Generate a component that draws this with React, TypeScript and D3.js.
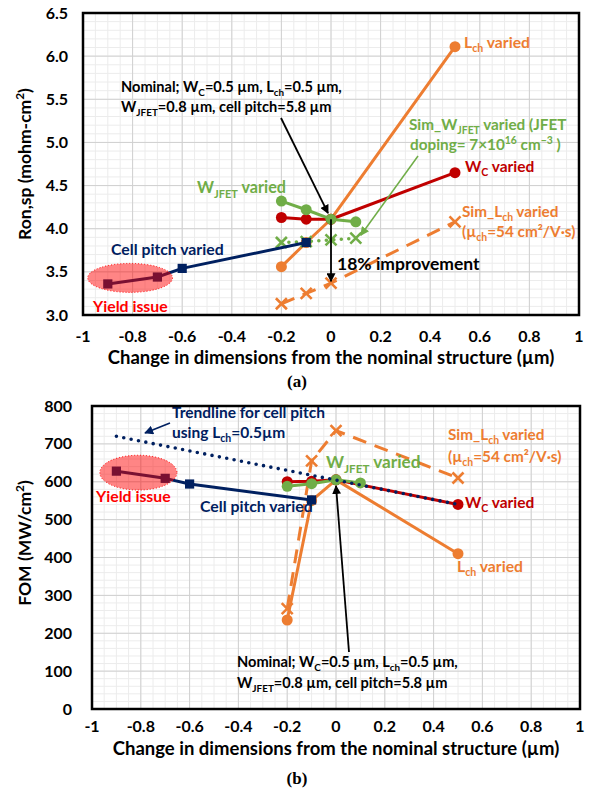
import React from 'react';
import * as d3 from 'd3';

type Pt = [number, number];

const FONT = "Lato, 'Open Sans', sans-serif";
const ORANGE = '#ED7D31';
const RED = '#C00000';
const GREEN = '#70AD47';
const NAVY = '#002060';
const BRIGHT_RED = '#FF0000';

// (a) Ron,sp (mohm-cm²) against change in dimension (µm)
const ronLch: Pt[] = [[-0.2, 3.56], [-0.1, 3.84], [0, 4.11], [0.5, 6.11]];
const ronWc: Pt[] = [[-0.2, 4.13], [-0.1, 4.11], [0, 4.11], [0.5, 4.65]];
const ronWjfet: Pt[] = [[-0.2, 4.32], [-0.1, 4.22], [0, 4.11], [0.1, 4.08]];
const ronSimWjfet: Pt[] = [[-0.2, 3.84], [-0.1, 3.85], [0, 3.87], [0.1, 3.89]];
const ronSimLch: Pt[] = [[-0.2, 3.13], [-0.1, 3.25], [0, 3.37], [0.5, 4.08]];
const ronCellPitch: Pt[] = [[-0.9, 3.36], [-0.7, 3.44], [-0.6, 3.54], [-0.1, 3.84]];

// (b) FOM (MW/cm²) against change in dimension (µm)
const fomLch: Pt[] = [[-0.2, 235], [-0.1, 550], [0, 605], [0.5, 410]];
const fomWc: Pt[] = [[-0.2, 600], [-0.1, 601], [0, 605], [0.5, 540]];
const fomWjfet: Pt[] = [[-0.2, 588], [-0.1, 595], [0, 605], [0.1, 597]];
const fomSimLch: Pt[] = [[-0.2, 265], [-0.1, 655], [0, 735], [0.5, 610]];
const fomCellPitch: Pt[] = [[-0.9, 628], [-0.7, 609], [-0.6, 594], [-0.1, 552]];
const fomTrend: Pt[] = [[-0.9, 720], [0.5, 540]];

const xTickValues = [-1, -0.8, -0.6, -0.4, -0.2, 0, 0.2, 0.4, 0.6, 0.8, 1];
const xTickLabels = ['-1', '-0.8', '-0.6', '-0.4', '-0.2', '0', '0.2', '0.4', '0.6', '0.8', '1'];
const ronTickValues = [3, 3.5, 4, 4.5, 5, 5.5, 6, 6.5];
const ronTickLabels = ['3.0', '3.5', '4.0', '4.5', '5.0', '5.5', '6.0', '6.5'];
const fomTickValues = [0, 100, 200, 300, 400, 500, 600, 700, 800];
const fomTickLabels = ['0', '100', '200', '300', '400', '500', '600', '700', '800'];

const xTitle = 'Change in dimensions from the nominal structure (µm)';

type Seg = string | { t: string; s: 'sub' | 'sup' };

function Rich({ x, y, segs, size, fill, anchor = 'start', transform }: {
  x: number; y: number; segs: Seg[]; size: number; fill: string; anchor?: string; transform?: string;
}) {
  const out: React.ReactNode[] = [];
  let shift = 0;
  segs.forEach((seg, i) => {
    if (typeof seg === 'string') {
      out.push(<tspan key={i} dy={-shift}>{seg}</tspan>);
      shift = 0;
    } else {
      const d = seg.s === 'sub' ? size * 0.28 : -size * 0.4;
      out.push(<tspan key={i} dy={d - shift} fontSize={size * 0.68}>{seg.t}</tspan>);
      shift = d;
    }
  });
  return (
    <text x={x} y={y} fontSize={size} fill={fill} fontWeight={700} fontFamily={FONT}
      textAnchor={anchor} transform={transform}>{out}</text>
  );
}

type Scale = d3.ScaleLinear<number, number>;

function Frame({ x, y, xMinor, yMinor, yTicks, yLabels, yLabelRight, xLabelY, titleY }: {
  x: Scale; y: Scale; xMinor: number; yMinor: number; yTicks: number[]; yLabels: string[];
  yLabelRight: number; xLabelY: number; titleY: number;
}) {
  const [x0, x1] = x.range();
  const [y0, y1] = y.range();
  const [dx0, dx1] = x.domain();
  const [dy0, dy1] = y.domain();
  const minorX = d3.range(Math.round((dx1 - dx0) / xMinor) + 1).map(i => dx0 + i * xMinor);
  const minorY = d3.range(Math.round((dy1 - dy0) / yMinor) + 1).map(i => dy0 + i * yMinor);
  return (
    <g>
      <rect x={x0} y={y1} width={x1 - x0} height={y0 - y1} fill="#fff" />
      {minorX.map((v, i) => <line key={'mx' + i} x1={x(v)} x2={x(v)} y1={y1} y2={y0} stroke="#ececec" strokeWidth={1} />)}
      {minorY.map((v, i) => <line key={'my' + i} x1={x0} x2={x1} y1={y(v)} y2={y(v)} stroke="#ececec" strokeWidth={1} />)}
      {xTickValues.map((v, i) => <line key={'gx' + i} x1={x(v)} x2={x(v)} y1={y1} y2={y0} stroke="#d0d0d0" strokeWidth={1} />)}
      {yTicks.map((v, i) => <line key={'gy' + i} x1={x0} x2={x1} y1={y(v)} y2={y(v)} stroke="#d0d0d0" strokeWidth={1} />)}
      {xTickValues.map((v, i) => (
        <text key={'tx' + i} x={x(v)} y={xLabelY} textAnchor="middle" fontSize={16} fontWeight={700} fontFamily={FONT} fill="#000">{xTickLabels[i]}</text>
      ))}
      {yTicks.map((v, i) => (
        <text key={'ty' + i} x={yLabelRight} y={y(v) + 5.5} textAnchor="end" fontSize={16} fontWeight={700} fontFamily={FONT} fill="#000">{yLabels[i]}</text>
      ))}
      <text x={(x0 + x1) / 2} y={titleY} textAnchor="middle" fontSize={18.5} fontWeight={700} fontFamily={FONT} fill="#000">{xTitle}</text>
    </g>
  );
}

function Border({ x, y }: { x: Scale; y: Scale }) {
  const [x0, x1] = x.range();
  const [y0, y1] = y.range();
  return <rect x={x0} y={y1} width={x1 - x0} height={y0 - y1} fill="none" stroke="#000" strokeWidth={2.5} />;
}

function Series({ data, x, y, color, style = 'solid', marker, width = 3, size = 5.5 }: {
  data: Pt[]; x: Scale; y: Scale; color: string; style?: 'solid' | 'dash' | 'dot';
  marker?: 'circle' | 'square' | 'x'; width?: number; size?: number;
}) {
  const line = d3.line<Pt>().x(d => x(d[0])).y(d => y(d[1]));
  const dash = style === 'dash' ? '14 9' : style === 'dot' ? '0 7.5' : undefined;
  return (
    <g>
      <path d={line(data) || ''} fill="none" stroke={color} strokeWidth={style === 'dot' ? 3.6 : width}
        strokeDasharray={dash} strokeLinecap={style === 'dot' ? 'round' : 'butt'} strokeLinejoin="round" />
      {marker && data.map((d, i) => {
        const cx = x(d[0]);
        const cy = y(d[1]);
        if (marker === 'circle') return <circle key={i} cx={cx} cy={cy} r={size} fill={color} />;
        if (marker === 'square') return <rect key={i} x={cx - size} y={cy - size} width={size * 2} height={size * 2} fill={color} />;
        return (
          <path key={i} d={`M${cx - size},${cy - size}L${cx + size},${cy + size}M${cx - size},${cy + size}L${cx + size},${cy - size}`}
            stroke={color} strokeWidth={2.6} fill="none" />
        );
      })}
    </g>
  );
}

function YieldZone({ x, y, cx, cy, rx, ry }: { x: Scale; y: Scale; cx: number; cy: number; rx: number; ry: number }) {
  return (
    <ellipse cx={x(cx)} cy={y(cy)} rx={x(cx + rx) - x(cx)} ry={y(cy) - y(cy + ry)}
      fill={BRIGHT_RED} fillOpacity={0.48} stroke={BRIGHT_RED} strokeWidth={1} strokeDasharray="1 2" />
  );
}

export default function App() {
  const xA = d3.scaleLinear().domain([-1, 1]).range([83, 579]);
  const yA = d3.scaleLinear().domain([3, 6.5]).range([315, 13]);
  const xB = d3.scaleLinear().domain([-1, 1]).range([92, 580]);
  const yB = d3.scaleLinear().domain([0, 800]).range([709, 406]);

  const nomA: Pt = [xA(0), yA(4.11)];
  const nomB: Pt = [xB(0), yB(605)];

  return (
    <svg width={595} height={793} viewBox="0 0 595 793" style={{ position: 'absolute', left: 0, top: 0, background: '#fff' }}>
      <defs>
        <marker id="ahBlack" viewBox="0 0 10 10" refX="9" refY="5" markerWidth="5" markerHeight="5" orient="auto">
          <path d="M0,0L10,5L0,10z" fill="#000" />
        </marker>
        <marker id="ahGreen" viewBox="0 0 10 10" refX="9" refY="5" markerWidth="6" markerHeight="6" orient="auto">
          <path d="M0,0L10,5L0,10z" fill={GREEN} />
        </marker>
        <marker id="ahNavy" viewBox="0 0 10 10" refX="9" refY="5" markerWidth="5" markerHeight="5" orient="auto">
          <path d="M0,0L10,5L0,10z" fill={NAVY} />
        </marker>
      </defs>
      <rect width={595} height={793} fill="#fff" />

      {/* ---------- (a) Ron,sp ---------- */}
      <Frame x={xA} y={yA} xMinor={0.05} yMinor={0.1} yTicks={ronTickValues} yLabels={ronTickLabels}
        yLabelRight={68} xLabelY={342} titleY={364} />
      <Rich x={31} y={164} segs={['Ron,sp (mohm-cm', { t: '2', s: 'sup' }, ')']} size={17.5} fill="#000"
        anchor="middle" transform="rotate(-90 31 164)" />

      <Series data={ronSimLch} x={xA} y={yA} color={ORANGE} style="dash" marker="x" />
      <Series data={ronLch} x={xA} y={yA} color={ORANGE} marker="circle" />
      <Series data={ronWc} x={xA} y={yA} color={RED} marker="circle" />
      <Series data={ronSimWjfet} x={xA} y={yA} color={GREEN} style="dot" marker="x" />
      <Series data={ronWjfet} x={xA} y={yA} color={GREEN} marker="circle" />
      <Series data={ronCellPitch} x={xA} y={yA} color={NAVY} marker="square" size={4.6} />
      <YieldZone x={xA} y={yA} cx={-0.81} cy={3.43} rx={0.171} ry={0.168} />

      <line x1={281} y1={118} x2={nomA[0] - 3} y2={nomA[1] - 6} stroke="#000" strokeWidth={1.8} markerEnd="url(#ahBlack)" />
      <line x1={nomA[0]} y1={nomA[1]} x2={xA(0)} y2={yA(3.39)} stroke="#000" strokeWidth={1.8} markerEnd="url(#ahBlack)" />
      <line x1={418} y1={156} x2={xA(0.1) + 5} y2={yA(3.89) - 3} stroke={GREEN} strokeWidth={1.5} markerEnd="url(#ahGreen)" />

      <Rich x={464} y={48} segs={['L', { t: 'ch', s: 'sub' }, ' varied']} size={15.7} fill={ORANGE} />
      <Rich x={465} y={172} segs={['W', { t: 'C', s: 'sub' }, ' varied']} size={15.5} fill={RED} />
      <Rich x={197} y={193} segs={['W', { t: 'JFET', s: 'sub' }, ' varied']} size={16.2} fill={GREEN} />
      <Rich x={409} y={130} segs={['Sim_W', { t: 'JFET', s: 'sub' }, ' varied (JFET']} size={15.3} fill={GREEN} />
      <Rich x={410} y={150} segs={['doping= 7×10', { t: '16', s: 'sup' }, ' cm', { t: '−3', s: 'sup' }, ' )']} size={15.3} fill={GREEN} />
      <Rich x={462} y={217} segs={['Sim_L', { t: 'ch', s: 'sub' }, ' varied']} size={15.3} fill={ORANGE} />
      <Rich x={462} y={237} segs={['(µ', { t: 'ch', s: 'sub' }, '=54 cm²/V·s)']} size={15.3} fill={ORANGE} />
      <Rich x={111} y={255} segs={['Cell pitch varied']} size={15.8} fill={NAVY} />
      <Rich x={93} y={312} segs={['Yield issue']} size={15.8} fill={BRIGHT_RED} />
      <Rich x={121} y={92} segs={['Nominal; W', { t: 'C', s: 'sub' }, '=0.5 µm, L', { t: 'ch', s: 'sub' }, '=0.5 µm,']} size={14.6} fill="#000" />
      <Rich x={121} y={112} segs={['W', { t: 'JFET', s: 'sub' }, '=0.8 µm, cell pitch=5.8 µm']} size={14.6} fill="#000" />
      <Rich x={337} y={270} segs={['18% improvement']} size={17.5} fill="#000" />
      <Border x={xA} y={yA} />
      <text x={297} y={387} textAnchor="middle" fontSize={17} fontWeight={700} fontFamily="'Liberation Serif', serif">(a)</text>

      {/* ---------- (b) FOM ---------- */}
      <Frame x={xB} y={yB} xMinor={0.05} yMinor={20} yTicks={fomTickValues} yLabels={fomTickLabels}
        yLabelRight={72} xLabelY={732} titleY={755} />
      <Rich x={31} y={543} segs={['FOM (MW/cm', { t: '2', s: 'sup' }, ')']} size={17.5} fill="#000"
        anchor="middle" transform="rotate(-90 31 543)" />

      <Series data={fomLch} x={xB} y={yB} color={ORANGE} marker="circle" />
      <Series data={fomSimLch} x={xB} y={yB} color={ORANGE} style="dash" marker="x" />
      <Series data={fomWc} x={xB} y={yB} color={RED} marker="circle" />
      <Series data={fomWjfet} x={xB} y={yB} color={GREEN} marker="circle" />
      <Series data={fomCellPitch} x={xB} y={yB} color={NAVY} marker="square" size={4.6} />
      <Series data={fomTrend} x={xB} y={yB} color={NAVY} style="dot" />
      <YieldZone x={xB} y={yB} cx={-0.81} cy={624} rx={0.158} ry={46} />

      <line x1={349} y1={652} x2={nomB[0]} y2={nomB[1] + 6} stroke="#000" strokeWidth={1.8} markerEnd="url(#ahBlack)" />
      <line x1={170} y1={423} x2={145} y2={433} stroke={NAVY} strokeWidth={1.8} markerEnd="url(#ahNavy)" />

      <Rich x={172} y={418} segs={['Trendline for cell pitch']} size={15.5} fill={NAVY} />
      <Rich x={172} y={438} segs={['using L', { t: 'ch', s: 'sub' }, '=0.5µm']} size={15.5} fill={NAVY} />
      <Rich x={326} y={468} segs={['W', { t: 'JFET', s: 'sub' }, ' varied']} size={17.2} fill={GREEN} />
      <Rich x={448} y={440} segs={['Sim_L', { t: 'ch', s: 'sub' }, ' varied']} size={15.3} fill={ORANGE} />
      <Rich x={448} y={462} segs={['(µ', { t: 'ch', s: 'sub' }, '=54 cm²/V·s)']} size={15.3} fill={ORANGE} />
      <Rich x={465} y={508} segs={['W', { t: 'C', s: 'sub' }, ' varied']} size={15.5} fill={RED} />
      <Rich x={457} y={572} segs={['L', { t: 'ch', s: 'sub' }, ' varied']} size={15.7} fill={ORANGE} />
      <Rich x={200} y={512} segs={['Cell pitch varied']} size={15.8} fill={NAVY} />
      <Rich x={96} y={502} segs={['Yield issue']} size={15.8} fill={BRIGHT_RED} />
      <Rich x={237} y={667} segs={['Nominal; W', { t: 'C', s: 'sub' }, '=0.5 µm, L', { t: 'ch', s: 'sub' }, '=0.5 µm,']} size={14.6} fill="#000" />
      <Rich x={237} y={688} segs={['W', { t: 'JFET', s: 'sub' }, '=0.8 µm, cell pitch=5.8 µm']} size={14.6} fill="#000" />
      <Border x={xB} y={yB} />
      <text x={297} y={784} textAnchor="middle" fontSize={17} fontWeight={700} fontFamily="'Liberation Serif', serif">(b)</text>
    </svg>
  );
}
